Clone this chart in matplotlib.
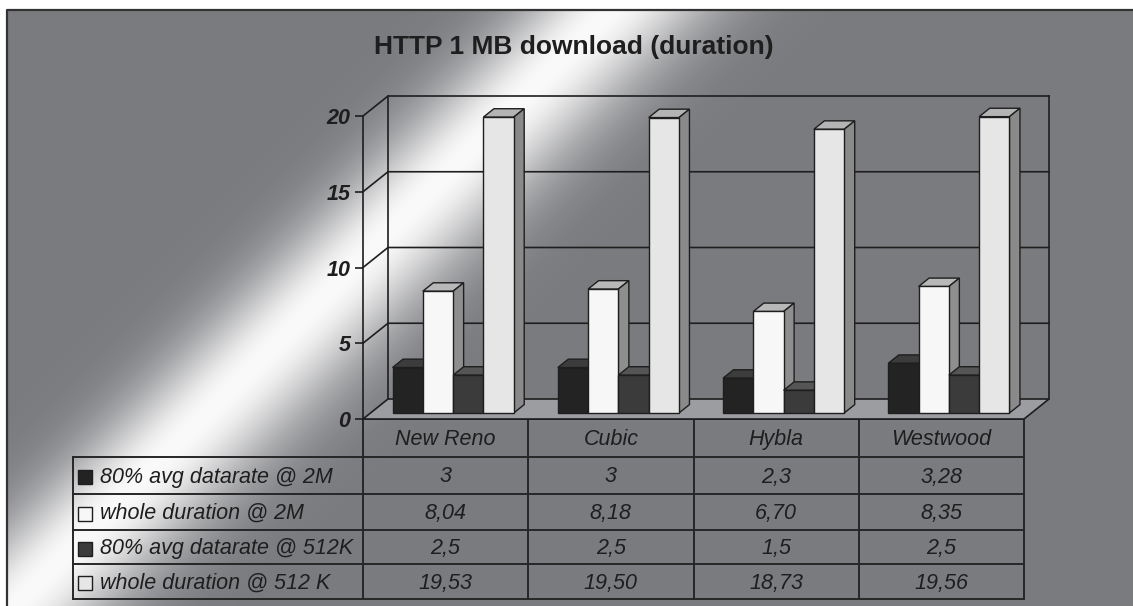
import numpy as np
import matplotlib.pyplot as plt
from matplotlib.patches import Polygon, Rectangle

plt.rcParams['font.family'] = ['Liberation Sans', 'DejaVu Sans']

# data table (comma decimals, as printed under the chart)
categories = ['New Reno', 'Cubic', 'Hybla', 'Westwood']
series_names = ['80% avg datarate @ 2M', 'whole duration @ 2M',
                '80% avg datarate @ 512K', 'whole duration @ 512 K']
rate_2m = ['3', '3', '2,3', '3,28']
dur_2m = ['8,04', '8,18', '6,70', '8,35']
rate_512k = ['2,5', '2,5', '1,5', '2,5']
dur_512k = ['19,53', '19,50', '18,73', '19,56']
table_text = [rate_2m, dur_2m, rate_512k, dur_512k]
values = [[float(s.replace(',', '.')) for s in row] for row in table_text]
yticks = [0, 5, 10, 15, 20]

# face colours per series: front, right side, top
c_front = ['#232323', '#f7f7f7', '#3b3b3b', '#e6e6e6']
c_side = ['#2c2c2c', '#8e8e8e', '#464646', '#8a8a8a']
c_top = ['#3c3c3c', '#b8b8b8', '#555555', '#b4b4b4']
ink = '#1e1e1e'

W, H = 1133, 606
fig = plt.figure(figsize=(W / 100, H / 100), dpi=100)

# background: grey with a diagonal light streak
bg = fig.add_axes([0, 0, 1, 1])
bg.set_xlim(0, W)
bg.set_ylim(H, 0)
bg.axis('off')
yy, xx = np.mgrid[0:H, 0:W] + 0.5
d = xx + yy - 620
t = np.exp(-(d / np.where(d < 0, 88.0, 100.0)) ** 2)
grey = np.array([122, 123, 127]) / 255
white = np.array([250, 250, 250]) / 255
img = grey + (white - grey) * t[..., None]
img[(xx < 7) | (yy < 10)] = 1.0
bg.imshow(img, extent=(0, W, H, 0), aspect='auto', interpolation='bilinear')
bg.plot([7, 7, W], [H, 10, 10], color='#333333', lw=1.6)

bg.text(574, 47, 'HTTP 1 MB download (duration)', ha='center', va='center',
        fontsize=19, fontweight='bold', color=ink)

# front plane of the 3-D plot
x_left, x_right = 363, 1024
y_zero, y_top = 419, 116
ax = fig.add_axes([x_left / W, 1 - y_zero / H,
                   (x_right - x_left) / W, (y_zero - y_top) / H])
n = len(categories)
ax.set_xlim(-0.5, n - 0.5)
ax.set_ylim(0, 20)
ax.patch.set_visible(False)
for s in ['top', 'right', 'bottom']:
    ax.spines[s].set_visible(False)
ax.spines['left'].set_color(ink)
ax.spines['left'].set_linewidth(1.2)
ax.set_xticks([])
ax.set_yticks(yticks)
ax.tick_params(axis='y', direction='out', length=6, width=1.2, color=ink,
               pad=3, labelsize=15.5, labelcolor=ink)
for lab in ax.get_yticklabels():
    lab.set_fontweight('bold')
    lab.set_fontstyle('italic')

ux = (x_right - x_left) / n
uy = (y_zero - y_top) / 20
dxw, dyw = 25 / ux, 20 / uy   # depth of floor / walls

xa, xb = -0.5, n - 0.5
kw = dict(color=ink, lw=1.2, clip_on=False, zorder=2)
# walls and grid
for v in yticks[1:]:
    ax.plot([xa, xa + dxw, xb + dxw], [v, v + dyw, v + dyw], **kw)
ax.plot([xa + dxw, xa + dxw], [dyw, 20 + dyw], **kw)
ax.plot([xb + dxw, xb + dxw], [dyw, 20 + dyw], **kw)
floor = Polygon([(xa, 0), (xb, 0), (xb + dxw, dyw), (xa + dxw, dyw)],
                closed=True, fc='#9c9da1', ec=ink, lw=1.2, clip_on=False, zorder=2)
ax.add_patch(floor)

# bars
bw = 0.1833
f0, dd = 0.3, 0.42
for i in range(n):
    for k in range(len(values)):
        h = values[k][i]
        x0 = i + (k - 2) * bw + f0 * dxw
        x1 = x0 + bw
        b = f0 * dyw
        ddx, ddy = dd * dxw, dd * dyw
        top = Polygon([(x0, b + h), (x1, b + h), (x1 + ddx, b + h + ddy),
                       (x0 + ddx, b + h + ddy)], closed=True, fc=c_top[k],
                      ec=ink, lw=1.0, clip_on=False, zorder=3)
        side = Polygon([(x1, b), (x1, b + h), (x1 + ddx, b + h + ddy),
                        (x1 + ddx, b + ddy)], closed=True, fc=c_side[k],
                       ec=ink, lw=1.0, clip_on=False, zorder=3)
        ax.add_patch(top)
        ax.add_patch(side)
        ax.bar(x0, h, bw, bottom=b, align='edge', color=c_front[k],
               edgecolor=ink, linewidth=1.0, clip_on=False, zorder=3)

# data table below the plot
rows = [419, 457, 494, 530, 564, 599]
col_edges = [x_left + j * ux for j in range(n + 1)]
tkw = dict(color='#262626', lw=1.4)
bg.plot([x_left, x_right], [rows[0], rows[0]], **tkw)
for y in rows[1:]:
    bg.plot([73, x_right], [y, y], **tkw)
bg.plot([73, 73], [rows[1], rows[-1]], **tkw)
for xe in col_edges:
    bg.plot([xe, xe], [rows[0], rows[-1]], **tkw)

fs = 15.5
for i, cat in enumerate(categories):
    xc = x_left + (i + 0.5) * ux
    bg.text(xc, (rows[0] + rows[1]) / 2 + 1.5, cat, ha='center', va='center',
            fontsize=fs, style='italic', color=ink)
for k, name in enumerate(series_names):
    yc = (rows[k + 1] + rows[k + 2]) / 2 + 1.5
    bg.add_patch(Rectangle((78, yc - 7), 14, 14, fc=c_front[k], ec=ink, lw=1.0))
    bg.text(100, yc, name, ha='left', va='center', fontsize=fs,
            style='italic', color=ink)
    for i, s in enumerate(table_text[k]):
        xc = x_left + (i + 0.5) * ux
        bg.text(xc, yc, s, ha='center', va='center', fontsize=fs,
                style='italic', color=ink)

plt.savefig('out.png', dpi=100)
